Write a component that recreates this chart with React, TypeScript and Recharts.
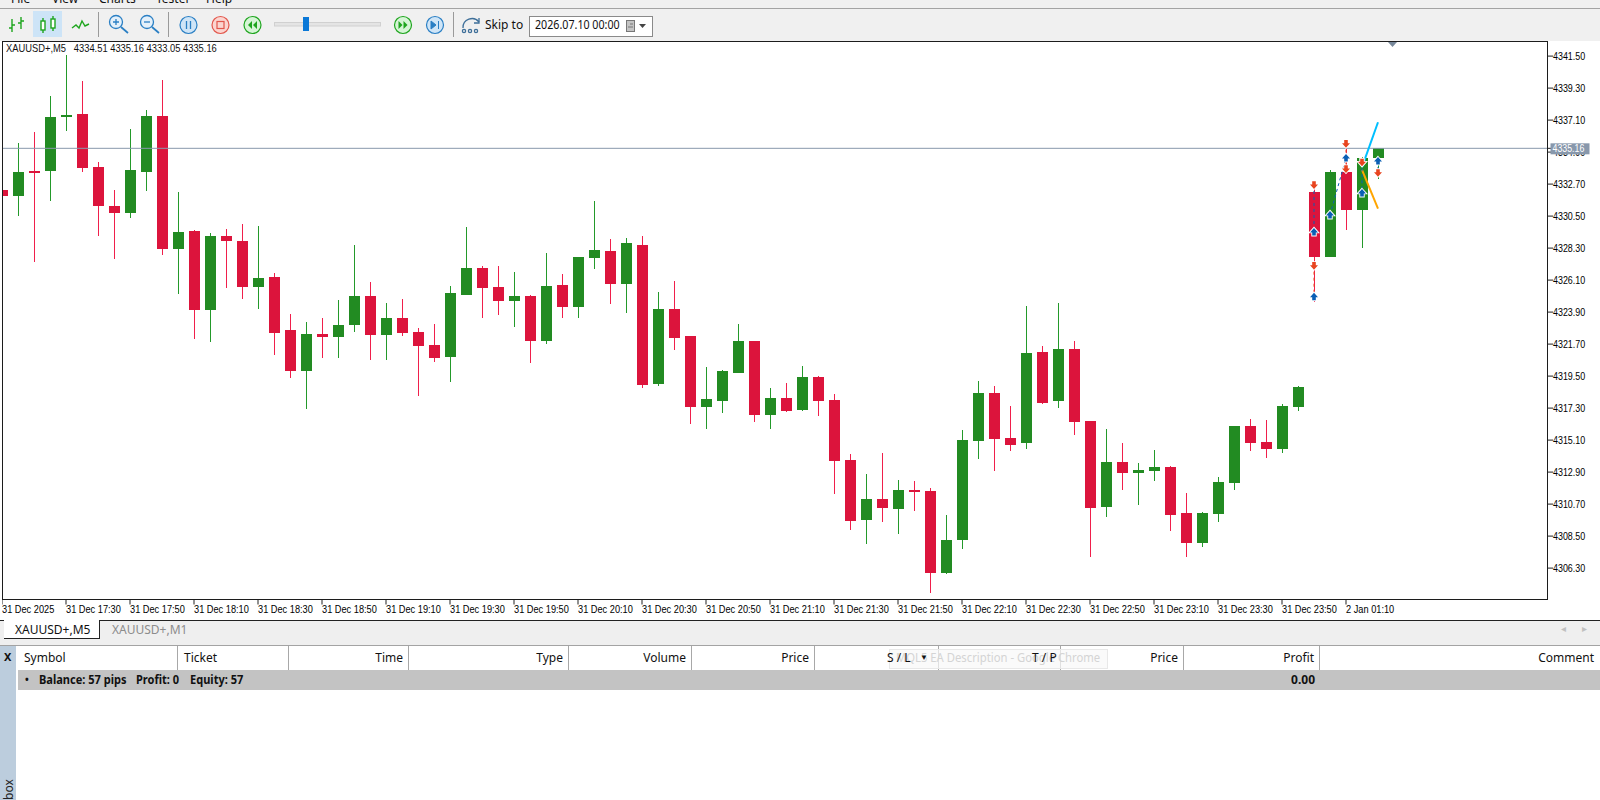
import React from "react";
import { Bar, ComposedChart, Line, ReferenceLine, XAxis, YAxis } from "recharts";

const opens = [
  4332.3, 4331.91, 4333.6, 4333.63, 4337.32, 4337.52, 4333.88, 4331.2, 4330.74, 4333.56,
  4337.38, 4328.26, 4329.48, 4324.07, 4329.13, 4328.79, 4325.65, 4326.32, 4322.67, 4319.88,
  4322.4, 4322.21, 4323.04, 4325.01, 4322.35, 4323.5, 4322.54, 4321.64, 4320.83, 4325.1,
  4326.93, 4325.62, 4324.68, 4325.0, 4321.93, 4325.76, 4324.27, 4327.64, 4328.1, 4325.85,
  4328.51, 4318.98, 4324.11, 4322.25, 4317.4, 4317.81, 4319.73, 4321.91, 4316.85, 4317.99,
  4317.19, 4319.44, 4317.86, 4313.73, 4309.63, 4311.05, 4310.39, 4311.67, 4311.6, 4305.99,
  4308.26, 4315.06, 4318.34, 4315.24, 4314.92, 4321.16, 4317.81, 4321.36, 4316.41, 4310.52,
  4313.59, 4312.86, 4313.0, 4313.25, 4310.09, 4308.05, 4310.04, 4312.17, 4316.07, 4314.97,
  4314.51, 4317.4, 4332.15, 4327.71, 4333.53, 4330.94, 4334.51,
];
const highs = [
  4332.3, 4335.53, 4336.28, 4338.76, 4341.58, 4339.79, 4334.22, 4332.3, 4336.49, 4337.8,
  4339.86, 4332.16, 4329.55, 4329.34, 4329.62, 4329.96, 4329.82, 4326.59, 4323.77, 4323.22,
  4323.5, 4324.73, 4328.52, 4325.97, 4324.53, 4324.8, 4322.81, 4323.08, 4325.69, 4329.75,
  4327.07, 4327.07, 4326.65, 4325.07, 4327.96, 4326.52, 4327.69, 4331.54, 4328.92, 4328.99,
  4329.13, 4325.28, 4326.04, 4322.25, 4320.12, 4319.92, 4323.08, 4321.91, 4318.68, 4319.02,
  4320.19, 4319.5, 4318.27, 4314.14, 4312.77, 4314.21, 4312.36, 4312.29, 4311.81, 4309.95,
  4315.79, 4319.16, 4318.82, 4317.44, 4324.32, 4321.57, 4324.53, 4321.91, 4316.41, 4315.86,
  4314.9, 4313.53, 4314.42, 4313.32, 4311.46, 4310.16, 4312.56, 4316.07, 4316.55, 4316.48,
  4317.58, 4318.82, 4332.41, 4333.67, 4335.5, 4334.58, 4335.16,
];
const lows = [
  4331.91, 4330.53, 4327.37, 4331.56, 4336.38, 4333.56, 4329.16, 4327.58, 4330.4, 4332.25,
  4327.85, 4325.17, 4322.08, 4321.87, 4325.58, 4324.83, 4324.14, 4320.98, 4319.4, 4317.24,
  4320.77, 4320.77, 4322.56, 4320.63, 4320.63, 4322.28, 4318.13, 4320.49, 4319.12, 4325.1,
  4323.52, 4323.72, 4322.9, 4320.42, 4321.73, 4323.52, 4323.52, 4326.88, 4324.48, 4323.86,
  4318.7, 4318.84, 4321.32, 4316.23, 4315.88, 4316.98, 4319.73, 4316.37, 4315.88, 4317.05,
  4317.12, 4316.78, 4311.42, 4308.94, 4307.98, 4309.49, 4308.67, 4310.25, 4304.61, 4305.92,
  4307.64, 4313.82, 4313.0, 4314.37, 4314.51, 4317.61, 4317.33, 4315.47, 4307.09, 4309.84,
  4311.69, 4310.66, 4312.31, 4308.87, 4307.09, 4307.77, 4309.49, 4311.69, 4314.37, 4313.89,
  4314.24, 4317.12, 4324.57, 4327.71, 4329.57, 4328.33, 4333.05,
];
const closes = [
  4331.91, 4333.53, 4333.53, 4337.32, 4337.45, 4333.83, 4331.22, 4330.74, 4333.67, 4337.38,
  4328.26, 4329.41, 4324.07, 4329.13, 4328.81, 4325.65, 4326.25, 4322.49, 4319.88, 4322.4,
  4322.21, 4323.02, 4325.01, 4322.35, 4323.5, 4322.49, 4321.6, 4320.77, 4325.21, 4326.93,
  4325.58, 4324.68, 4325.0, 4321.93, 4325.69, 4324.27, 4327.69, 4328.17, 4325.85, 4328.65,
  4318.91, 4324.11, 4322.14, 4317.4, 4317.92, 4319.85, 4321.91, 4316.85, 4317.99, 4317.12,
  4319.44, 4317.81, 4313.69, 4309.56, 4311.05, 4310.46, 4311.67, 4311.55, 4305.99, 4308.23,
  4315.11, 4318.34, 4315.2, 4314.79, 4321.09, 4317.67, 4321.36, 4316.37, 4310.46, 4313.59,
  4312.86, 4313.04, 4313.25, 4309.97, 4308.05, 4310.09, 4312.22, 4316.07, 4314.92, 4314.51,
  4317.44, 4318.75, 4327.71, 4333.53, 4330.94, 4334.49, 4335.16,
];

// slots 82..86 carry the tester's trade marks
const tradeSlots = [82, 83, 84, 85, 86];
const buyMarksA = [4329.41, 4330.58, 4334.5, 4332.09, 4334.29];
const buyMarksB = [4324.96, null, null, null, null];
const sellMarksA = [4332.64, null, 4335.48, 4334.2, 4333.48];
const sellMarksB = [4327.09, null, 4333.74, null, null];
const cyanLine = [null, null, null, 4333.87, 4336.95];
const orangeLine = [null, null, null, 4333.68, 4331.01];

const tradeLinks = [
  { from: [82, 4332.64], to: [82, 4329.41], color: "#0a5fb4" },
  { from: [82, 4327.09], to: [82, 4324.96], color: "#e8441f" },
  { from: [83, 4330.58], to: [84, 4334.5], color: "#0a5fb4" },
  { from: [84, 4335.48], to: [84, 4333.74], color: "#e8441f" },
  { from: [85, 4334.2], to: [85, 4332.09], color: "#0a5fb4" },
  { from: [86, 4334.29], to: [86, 4333.48], color: "#0a5fb4" },
];

const lastPrice = 4335.16;
const totalSlots = 97;
const yDomain = [4304.141, 4342.504];
const yTicks = [
  4341.5, 4339.3, 4337.1, 4334.9, 4332.7, 4330.5, 4328.3, 4326.1, 4323.9, 4321.7, 4319.5,
  4317.3, 4315.1, 4312.9, 4310.7, 4308.5, 4306.3,
];
const xTicks = [0, 4, 8, 12, 16, 20, 24, 28, 32, 36, 40, 44, 48, 52, 56, 60, 64, 68, 72, 76, 80, 84];
const xLabels = [
  "31 Dec 2025", "31 Dec 17:30", "31 Dec 17:50", "31 Dec 18:10", "31 Dec 18:30", "31 Dec 18:50",
  "31 Dec 19:10", "31 Dec 19:30", "31 Dec 19:50", "31 Dec 20:10", "31 Dec 20:30", "31 Dec 20:50",
  "31 Dec 21:10", "31 Dec 21:30", "31 Dec 21:50", "31 Dec 22:10", "31 Dec 22:30", "31 Dec 22:50",
  "31 Dec 23:10", "31 Dec 23:30", "31 Dec 23:50", "2 Jan 01:10",
];

const rows = Array.from({ length: totalSlots }, (_, slot) => {
  const t = tradeSlots.indexOf(slot);
  return {
    slot,
    range: slot < opens.length ? [lows[slot], highs[slot]] : null,
    open: opens[slot],
    close: closes[slot],
    buyA: t >= 0 ? buyMarksA[t] : null,
    buyB: t >= 0 ? buyMarksB[t] : null,
    sellA: t >= 0 ? sellMarksA[t] : null,
    sellB: t >= 0 ? sellMarksB[t] : null,
    cyan: t >= 0 ? cyanLine[t] : null,
    orange: t >= 0 ? orangeLine[t] : null,
  };
});

const CHART_FONT = '"Liberation Sans", sans-serif';
const UI = '"Noto Sans", sans-serif';

function Candle(props: any) {
  const { x, y, width, height, payload } = props;
  if (!payload?.range) return <g />;
  const [low, high] = payload.range;
  const up = payload.close >= payload.open;
  const k = height / (high - low);
  const top = Math.round(y + (high - Math.max(payload.open, payload.close)) * k);
  const bottom = Math.round(y + (high - Math.min(payload.open, payload.close)) * k);
  const cx = x + width / 2;
  return (
    <g shapeRendering="crispEdges">
      <line x1={cx} x2={cx} y1={y} y2={y + height} stroke={up ? "#23992a" : "#f01f4b"} />
      <rect x={x} y={top} width={width} height={Math.max(bottom - top, 2)} fill={up ? "#228b22" : "#dc143c"} />
    </g>
  );
}

function TradeMark({ cx, cy, color, dir }: any) {
  if (cy == null || Number.isNaN(cy)) return <g />;
  const s = dir;
  const pts = [
    [0, -4 * s], [4, 0.5 * s], [1.8, 0.5 * s], [1.8, 3.6 * s], [-1.8, 3.6 * s], [-1.8, 0.5 * s], [-4, 0.5 * s],
  ]
    .map(([a, b]) => `${cx + a},${cy + b}`)
    .join(" ");
  return <polygon points={pts} fill={color} stroke="#fff" strokeWidth={1.8} paintOrder="stroke" />;
}

function XTick({ x, y, payload }: any) {
  const label = xLabels[xTicks.indexOf(payload.value)];
  return (
    <text transform={`translate(${x} ${y + 6}) scale(0.84 1)`} fontSize={11} fontFamily={CHART_FONT} fill="#000">
      {label}
    </text>
  );
}

function YTick({ x, y, payload }: any) {
  if (payload.value === lastPrice) {
    return (
      <g>
        <rect x={x - 2.5} y={y - 5} width={39} height={11} fill="#8898ac" />
        <text transform={`translate(${x - 0.5} ${y + 4}) scale(0.8 1)`} fontSize={11} fontFamily={CHART_FONT} fill="#fff">
          {lastPrice.toFixed(2)}
        </text>
      </g>
    );
  }
  return (
    <text transform={`translate(${x} ${y + 4}) scale(0.81 1)`} fontSize={11} fontFamily={CHART_FONT} fill="#000">
      {payload.value.toFixed(2)}
    </text>
  );
}

function Txt({ x, y, right, size = 12, color = "#111", weight, font = UI, sx, children }: any) {
  const pos: any = right != null ? { right: 1600 - right } : { left: x };
  return (
    <div
      style={{
        position: "absolute",
        ...pos,
        top: y,
        fontSize: size,
        lineHeight: `${size + 4}px`,
        color,
        fontWeight: weight,
        fontFamily: font,
        whiteSpace: "pre",
        transform: sx ? `scaleX(${sx})` : undefined,
        transformOrigin: right != null ? "right" : "left",
      }}
    >
      {children}
    </div>
  );
}

function Box({ x, y, w, h, bg, style }: any) {
  return <div style={{ position: "absolute", left: x, top: y, width: w, height: h, background: bg, ...style }} />;
}

function Round({ cx, color, fill, children }: any) {
  return (
    <g>
      <circle cx={cx} cy={25} r={8.5} fill={fill} stroke={color} strokeWidth={1.2} />
      {children}
    </g>
  );
}

function Toolbar() {
  const g = "#1ea51e";
  const b = "#2a7fc4";
  return (
    <svg width={660} height={41} style={{ position: "absolute", left: 0, top: 0 }}>
      <g stroke={g} strokeWidth={1.4} fill="none">
        <path d="M12 19v13M9 28h3M12 25h3M21 17v12M18 23h3M21 21h3" />
      </g>
      <rect x={33} y={11} width={29} height={26} fill="#cde4f7" />
      <g stroke={g} strokeWidth={1.4} fill="#fff">
        <path d="M43 18v15M53 16v15" />
        <rect x={41} y={21} width={4} height={9} />
        <rect x={51} y={19} width={4} height={9} />
      </g>
      <path d="M72 28l4-3 3 3 3-7 3 5 4-2" stroke={g} strokeWidth={1.4} fill="none" />
      {[98.5, 168.5, 453.5].map((x) => (
        <line key={x} x1={x} x2={x} y1={12} y2={37} stroke="#9a9a9a" />
      ))}
      {[116, 147].map((cx, i) => (
        <g key={cx} stroke={b} strokeWidth={1.3} fill="#e4f0fa">
          <circle cx={cx} cy={22} r={6.5} />
          <path d={`M${cx + 5} ${27}l7 6`} strokeWidth={1.7} />
          <path d={i === 0 ? `M${cx - 3} 22h6M${cx} 19v6` : `M${cx - 3} 22h6`} fill="none" />
        </g>
      ))}
      <Round cx={188.5} color={b} fill="#cfe5f7">
        <path d="M186.5 21v8M190.5 21v8" stroke={b} strokeWidth={1.3} />
      </Round>
      <Round cx={220.5} color="#e2574c" fill="#fbd5d0">
        <rect x={217} y={21.5} width={7} height={7} fill="none" stroke="#e2574c" strokeWidth={1.2} />
      </Round>
      <Round cx={252.5} color={g} fill="#d6f5d6">
        <path d="M252 21l-4 4 4 4zM257 21l-4 4 4 4z" fill={g} />
      </Round>
      <rect x={274.5} y={22.5} width={106} height={3.5} fill="#e4e4e4" stroke="#d0d0d0" />
      <rect x={303} y={17} width={6} height={14} fill="#0a78d7" />
      <Round cx={403} color={g} fill="#d6f5d6">
        <path d="M398.5 21l4 4-4 4zM403.5 21l4 4-4 4z" fill={g} />
      </Round>
      <Round cx={435} color={b} fill="#cfe5f7">
        <path d="M431 21l5 4-5 4zM438.5 21v8" fill={b} stroke={b} strokeWidth={1} />
      </Round>
      <g fill="none" stroke="#3e6f99" strokeWidth={1.3}>
        <path d="M463 28a9 9 0 0 1 16-6" />
        <path d="M479 18v5h-5" />
        <circle cx={464} cy={31} r={1.6} />
        <circle cx={470} cy={31} r={1.6} />
        <circle cx={476} cy={31} r={1.6} />
      </g>
      <rect x={529.5} y={16.5} width={123} height={20} fill="#fff" stroke="#8a8a8a" />
      <rect x={626.5} y={20.5} width={8} height={11} fill="#c4c4c4" stroke="#777" />
      <path d="M630 24h3M628 27h5" stroke="#777" />
      <path d="M639 24h7l-3.5 4z" fill="#444" />
    </svg>
  );
}

export default function App() {
  return (
    <div style={{ position: "absolute", left: 0, top: 0, width: 1600, height: 800, overflow: "hidden", background: "#fff" }}>
      {/* menu + toolbar */}
      <Box x={0} y={0} w={1600} h={41} bg="#f0f0f0" />
      <Box x={0} y={8} w={1600} h={1} bg="#a3a3a3" />
      <Txt x={11} y={-9}>File</Txt>
      <Txt x={52} y={-9}>View</Txt>
      <Txt x={99} y={-9}>Charts</Txt>
      <Txt x={156} y={-9}>Tester</Txt>
      <Txt x={206} y={-9}>Help</Txt>
      <Toolbar />
      <Txt x={485} y={17}>Skip to</Txt>
      <Txt x={534.5} y={17} sx={0.89}>2026.07.10 00:00</Txt>

      {/* chart */}
      <div style={{ position: "absolute", left: 2, top: 0, width: 1598, height: 620, overflow: "hidden" }}>
        <div style={{ position: "absolute", left: -8.5, top: 0 }}>
          <ComposedChart
            width={1606.5}
            height={620}
            data={rows}
            margin={{ top: 41.5, right: 0, bottom: 0, left: 0 }}
          >
            <XAxis
              dataKey="slot"
              type="category"
              ticks={xTicks}
              interval={0}
              height={20.5}
              padding={{ left: 0, right: 2 }}
              axisLine={false}
              tickSize={5}
              tickLine={{ stroke: "#222" }}
              tick={<XTick />}
            />
            <YAxis
              orientation="right"
              type="number"
              domain={yDomain}
              ticks={[...yTicks, lastPrice]}
              interval={0}
              width={52.5}
              allowDataOverflow
              axisLine={false}
              tickSize={5}
              tickMargin={0}
              tickLine={{ stroke: "#222" }}
              tick={<YTick />}
            />
            <ReferenceLine y={lastPrice} stroke="#8898ac" strokeWidth={1} ifOverflow="visible" />
            <Bar dataKey="range" barSize={11} shape={Candle} isAnimationActive={false} />
            <Line dataKey="cyan" stroke="#00bfff" strokeWidth={2} dot={false} isAnimationActive={false} />
            <Line dataKey="orange" stroke="#ffa500" strokeWidth={2} dot={false} isAnimationActive={false} />
            {tradeLinks.map((l, i) => (
              <ReferenceLine
                key={i}
                segment={[
                  { x: l.from[0], y: l.from[1] },
                  { x: l.to[0], y: l.to[1] },
                ]}
                stroke={l.color}
                strokeDasharray="3 3"
              />
            ))}
            <Line dataKey="buyA" stroke="none" isAnimationActive={false} dot={(p: any) => <TradeMark key={p.key} {...p} color="#0a5fb4" dir={1} />} />
            <Line dataKey="buyB" stroke="none" isAnimationActive={false} dot={(p: any) => <TradeMark key={p.key} {...p} color="#0a5fb4" dir={1} />} />
            <Line dataKey="sellA" stroke="none" isAnimationActive={false} dot={(p: any) => <TradeMark key={p.key} {...p} color="#e8441f" dir={-1} />} />
            <Line dataKey="sellB" stroke="none" isAnimationActive={false} dot={(p: any) => <TradeMark key={p.key} {...p} color="#e8441f" dir={-1} />} />
          </ComposedChart>
        </div>
      </div>
      <div style={{ position: "absolute", left: 2, top: 41, width: 1546, height: 559, boxSizing: "border-box", border: "1px solid #1c1c1c", pointerEvents: "none" }} />
      <svg width={12} height={7} style={{ position: "absolute", left: 1386.5, top: 41 }}>
        <path d="M1 1h9l-4.5 5z" fill="#77889a" />
      </svg>
      <Txt x={6} y={41} size={11} font={CHART_FONT} sx={0.85}>{"XAUUSD+,M5   4334.51 4335.16 4333.05 4335.16"}</Txt>

      {/* tab bar */}
      <Box x={0} y={620} w={1600} h={25} bg="#efefef" />
      <Box x={0} y={620} w={1600} h={1} bg="#222" />
      <Box x={4} y={620} w={96} h={18.5} bg="#fff" style={{ borderRight: "1.5px solid #222", borderBottom: "1.5px solid #222", boxSizing: "border-box" }} />
      <Txt x={15} y={622}>XAUUSD+,M5</Txt>
      <Txt x={112} y={622} color="#8c8c8c">XAUUSD+,M1</Txt>
      <Txt x={1561} y={621} size={10} color="#c0c0c0">{"\u25C2"}</Txt>
      <Txt x={1582} y={621} size={10} color="#c0c0c0">{"\u25B8"}</Txt>

      {/* toolbox table */}
      <Box x={0} y={645} w={1600} h={1} bg="#a3a3a3" />
      <Box x={0} y={646} w={16} h={154} bg="#bccddd" />
      <Txt x={4} y={649} weight={700} size={11}>X</Txt>
      <div style={{ position: "absolute", left: 1, top: 784, fontSize: 12, lineHeight: "16px", fontFamily: UI, color: "#222", transform: "rotate(-90deg)", width: 16, height: 16 }}>box</div>
      {[177, 288, 408, 568, 691, 814, 938, 1060, 1183, 1319].map((x) => (
        <Box key={x} x={x} y={646} w={1} h={24} bg="#a8a8a8" />
      ))}
      <Box x={889} y={649} w={219} h={20} bg="rgba(248,248,248,0.7)" style={{ border: "1px solid #e8e8e8", boxSizing: "border-box" }} />
      <Txt x={896} y={650} color="#d4d4d4" sx={0.94}>MQL5 EA Description - Google Chrome</Txt>
      <Txt x={24} y={650}>Symbol</Txt>
      <Txt x={184} y={650}>Ticket</Txt>
      <Txt right={403} y={650}>Time</Txt>
      <Txt right={563} y={650}>Type</Txt>
      <Txt right={686} y={650}>Volume</Txt>
      <Txt right={809} y={650}>Price</Txt>
      <Txt x={887} y={650}>S / L</Txt>
      <Txt x={920} y={651} size={8}>{"\u25BC"}</Txt>
      <Txt x={1032} y={650}>T / P</Txt>
      <Txt right={1178} y={650}>Price</Txt>
      <Txt right={1314} y={650}>Profit</Txt>
      <Txt right={1594} y={650}>Comment</Txt>
      <Box x={18} y={670} w={1582} h={20} bg="#c3c3c3" />
      <Txt x={25} y={672} weight={700} size={10}>{"\u2022"}</Txt>
      <Txt x={39} y={672} weight={700} sx={0.92}>Balance: 57 pips</Txt>
      <Txt x={136} y={672} weight={700} sx={0.92}>Profit: 0</Txt>
      <Txt x={190} y={672} weight={700} sx={0.92}>Equity: 57</Txt>
      <Txt right={1315} y={672} weight={700}>0.00</Txt>
    </div>
  );
}
